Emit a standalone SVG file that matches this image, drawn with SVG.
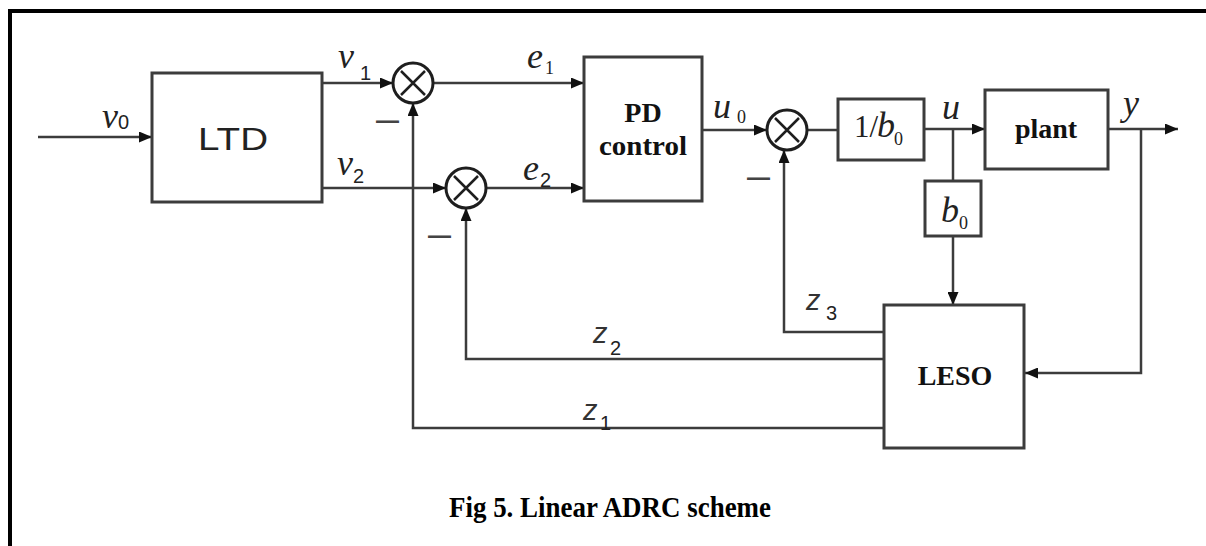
<svg xmlns="http://www.w3.org/2000/svg" width="1206" height="546" viewBox="0 0 1206 546">
<style>
.box{fill:#fff;stroke:#3c3c3c;stroke-width:3}
.ln{fill:none;stroke:#3c3c3c;stroke-width:2.5}
.arr{marker-end:url(#ah)}
.sumc{fill:#fff;stroke:#1e1e1e;stroke-width:3}
.sumx{stroke:#1e1e1e;stroke-width:2.5}
.it{font-family:"Liberation Serif",serif;font-style:italic;font-size:36px;fill:#222}
.rm{font-family:"Liberation Serif",serif;font-size:31px;fill:#222}
.sub{font-family:"Liberation Sans",sans-serif;font-size:20px;fill:#222}
.subs{font-family:"Liberation Serif",serif;font-size:18px;fill:#222}
.zi{font-family:"Liberation Sans",sans-serif;font-style:italic;font-size:29px;fill:#333}
.bt{font-family:"Liberation Serif",serif;font-weight:bold;font-size:28px;fill:#111;text-anchor:middle}
.st{font-family:"Liberation Sans",sans-serif;font-size:32px;fill:#222;text-anchor:middle}
.minus{font-family:"Liberation Sans",sans-serif;font-weight:bold;font-size:23px;fill:#444}
.cap{font-family:"Liberation Serif",serif;font-weight:bold;font-size:29px;fill:#000}
</style>
<defs>
<marker id="ah" markerUnits="userSpaceOnUse" markerWidth="13" markerHeight="11" refX="13" refY="5.5" orient="auto">
<path d="M0,0 L13,5.5 L0,11 Z" fill="#111"/>
</marker>
</defs>
<rect width="1206" height="546" fill="#fff"/>
<path d="M10,546 V11 H1206" fill="none" stroke="#000" stroke-width="4"/>

<g id="connectors">
<path class="ln arr" d="M38,137 H152"/>
<path class="ln arr" d="M322,83 H393"/>
<path class="ln arr" d="M322,188 H446"/>
<path class="ln arr" d="M433,83 H584"/>
<path class="ln arr" d="M487,188 H584"/>
<path class="ln arr" d="M702,130 H767"/>
<path class="ln" d="M807,130 H838"/>
<path class="ln arr" d="M924,129 H985"/>
<path class="ln" d="M953,129 V181"/>
<path class="ln arr" d="M953,236 V305"/>
<path class="ln arr" d="M1108,129 H1178"/>
<path class="ln arr" d="M1141,129 V373 H1025"/>
<path class="ln arr" d="M884,332 H784 V150"/>
<path class="ln arr" d="M884,359 H466 V208"/>
<path class="ln arr" d="M884,428 H413 V103"/>
</g>

<g id="ltd">
<rect class="box" x="152" y="73" width="170" height="129"/>
<text class="st" x="233" y="150" textLength="70" lengthAdjust="spacingAndGlyphs">LTD</text>
</g>

<g id="sum1">
<circle class="sumc" cx="413" cy="83" r="20"/>
<path class="sumx" d="M401,71 L425,95 M425,71 L401,95"/>
</g>
<g id="sum2">
<circle class="sumc" cx="466" cy="188" r="20"/>
<path class="sumx" d="M454,176 L478,200 M478,176 L454,200"/>
</g>
<g id="sum3">
<circle class="sumc" cx="787" cy="130" r="20"/>
<path class="sumx" d="M775,118 L799,142 M799,118 L775,142"/>
</g>

<g id="pd">
<rect class="box" x="584" y="57" width="118" height="144"/>
<text class="bt" x="643" y="122">PD</text>
<text class="bt" x="643" y="155" textLength="88" lengthAdjust="spacingAndGlyphs">control</text>
</g>

<g id="inv-b0">
<rect class="box" x="838" y="99" width="86" height="61"/>
<text><tspan class="rm" x="854" y="137">1/</tspan><tspan class="it" x="877" y="137" font-size="31">b</tspan><tspan class="subs" x="894" y="145" font-size="16">0</tspan></text>
</g>

<g id="plant">
<rect class="box" x="985" y="90" width="123" height="79"/>
<text class="bt" x="1046" y="138" font-size="27">plant</text>
</g>

<g id="b0">
<rect class="box" x="925" y="181" width="56" height="55"/>
<text><tspan class="it" x="941" y="222" font-size="33">b</tspan><tspan class="subs" x="959" y="229" font-size="16">0</tspan></text>
</g>

<g id="leso">
<rect class="box" x="884" y="305" width="140" height="143"/>
<text class="bt" x="955" y="385" font-size="29">LESO</text>
</g>

<g id="labels">
<text><tspan class="it" x="102" y="128">v</tspan><tspan class="sub" x="118" y="129">0</tspan></text>
<text><tspan class="it" x="338" y="68">v</tspan><tspan class="sub" x="360" y="80" font-size="17">1</tspan></text>
<text><tspan class="it" x="337" y="175">v</tspan><tspan class="sub" x="353" y="183">2</tspan></text>
<text><tspan class="it" x="527" y="68">e</tspan><tspan class="subs" x="545" y="74">1</tspan></text>
<text><tspan class="it" x="523" y="180">e</tspan><tspan class="sub" x="540" y="187" font-size="19">2</tspan></text>
<text><tspan class="it" x="713" y="118">u</tspan><tspan class="subs" x="737" y="123">0</tspan></text>
<text class="it" x="942" y="119">u</text>
<text class="it" x="1123" y="115">y</text>
<text><tspan class="zi" x="806" y="310">z</tspan><tspan class="sub" x="826" y="320" font-size="24">3</tspan></text>
<text><tspan class="zi" x="593" y="343">z</tspan><tspan class="sub" x="610" y="355" font-size="22">2</tspan></text>
<text><tspan class="zi" x="583" y="420">z</tspan><tspan class="sub" x="600" y="430" font-size="18">1</tspan></text>
<text class="minus" x="376" y="128">—</text>
<text class="minus" x="428" y="243">—</text>
<text class="minus" x="747" y="185">—</text>
</g>

<text class="cap" x="449" y="517" textLength="322" lengthAdjust="spacingAndGlyphs">Fig 5. Linear ADRC scheme</text>
</svg>
